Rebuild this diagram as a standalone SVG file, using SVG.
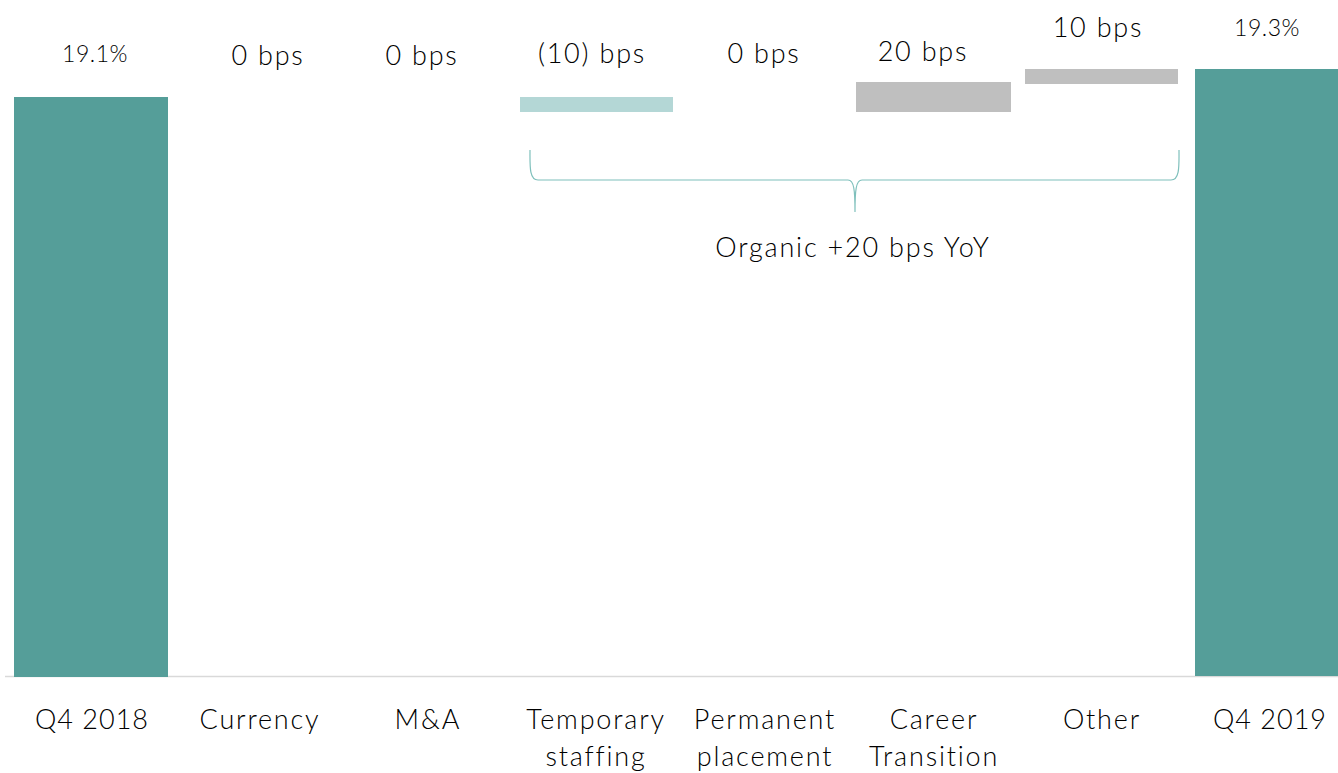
<svg xmlns="http://www.w3.org/2000/svg" width="1338" height="773" viewBox="0 0 1338 773">
<style>
text{font-family:Lato,"Noto Sans",sans-serif;font-weight:300;fill:#000;text-anchor:middle;letter-spacing:1.8px}
.v{font-size:27px}
.p{font-size:23px;letter-spacing:0.5px}
.c{font-size:27px}
.q{letter-spacing:1px}
.teal{fill:#559e99}
.lt{fill:#b4d7d6}
.gr{fill:#bfbfbf}
</style>
<rect width="1338" height="773" fill="#fff"/>
<g id="connectors">
<line x1="5" y1="676.5" x2="1338" y2="676.5" stroke="#d9d9d9" stroke-width="1.5"/>
<path d="M530 150 C530 165 529 180 538 180 L848 180 C854 180 855 190 855 212 C855 190 856 180 862 180 L1171 180 C1180 180 1179 165 1179 150" fill="none" stroke="#7fc0bc" stroke-width="1.2"/>
</g>
<g id="q42018"><rect class="teal" x="14" y="97" width="154" height="580"/><text class="p" x="95" y="62">19.1%</text><text class="c q" x="92" y="729">Q4 2018</text></g>
<g id="currency"><text class="v" x="268" y="65">0 bps</text><text class="c" x="260" y="729">Currency</text></g>
<g id="ma"><text class="v" x="422" y="65">0 bps</text><text class="c" x="428" y="729">M&amp;A</text></g>
<g id="temp"><rect class="lt" x="520" y="97" width="153" height="15"/><text class="v" x="592" y="63">(10) bps</text><text class="c" x="596" y="729">Temporary</text><text class="c" x="596" y="766">staffing</text></g>
<g id="perm"><text class="v" x="764" y="63">0 bps</text><text class="c" x="765" y="729">Permanent</text><text class="c" x="765" y="766">placement</text></g>
<g id="career"><rect class="gr" x="856" y="82" width="155" height="30"/><text class="v" x="923" y="61">20 bps</text><text class="c" x="934" y="729">Career</text><text class="c" x="934" y="766">Transition</text></g>
<g id="other"><rect class="gr" x="1025" y="69" width="153" height="15"/><text class="v" x="1098" y="37">10 bps</text><text class="c" x="1102" y="729">Other</text></g>
<g id="q42019"><rect class="teal" x="1195" y="69" width="143" height="607"/><text class="p" x="1267" y="36">19.3%</text><text class="c q" x="1270" y="729">Q4 2019</text></g>
<g id="organic"><text class="v" x="853" y="257">Organic +20 bps YoY</text></g>
</svg>
